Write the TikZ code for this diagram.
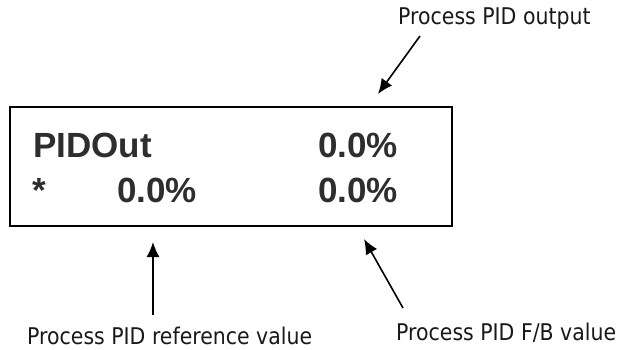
\documentclass[tikz,border=0pt]{standalone}
\usepackage{fontspec}
\setmainfont[FakeStretch=0.89]{DejaVu Sans}
\newfontfamily\lcdfont{Liberation Sans}
\usetikzlibrary{arrows.meta}

\begin{document}
\begin{tikzpicture}[x=1pt,y=-1pt,
    lcd/.style={font=\lcdfont\bfseries\fontsize{35}{35}\selectfont, text=black!82, inner sep=0pt, anchor=base west},
    note/.style={font=\fontsize{23}{23}\selectfont, text=black!90, inner sep=0pt, anchor=base west},
    pointer/.style={line width=1.6pt, -{Latex[length=15pt,width=13pt]}}]
    \useasboundingbox (0,0) rectangle (623,350);

    % display panel
    \node[draw, line width=2pt, minimum width=442pt, minimum height=119pt, inner sep=0pt] (panel) at (231,166.5) {};

    % display texts
    \node[lcd] (name) at (33,157) {PIDOut};
    \node[lcd, anchor=base east] (out) at (398,157) {0.0\%};
    \node[lcd] (star) at (32,202) {*};
    \node[lcd, anchor=base east] (ref) at (197,202) {0.0\%};
    \node[lcd, anchor=base east] (fb) at (398,202) {0.0\%};

    % labels
    \node[note] (outlbl) at (398,25) {Process PID output};
    \node[note] (reflbl) at (27,344) {Process PID reference value};
    \node[note] (fblbl) at (396,340) {Process PID F/B value};

    % edges
    \coordinate (outtail) at (420,36);
    \coordinate (outtip) at (378,94);
    \coordinate (reftail) at (153,315);
    \coordinate (reftip) at (153,242);
    \coordinate (fbtail) at (403,308);
    \coordinate (fbtip) at (364,239);
    \draw[pointer] (outtail) -- (outtip); % label -> PID output
    \draw[pointer] (reftail) -- (reftip); % label -> reference value
    \draw[pointer] (fbtail) -- (fbtip); % label -> F/B value

\end{tikzpicture}
\end{document}
